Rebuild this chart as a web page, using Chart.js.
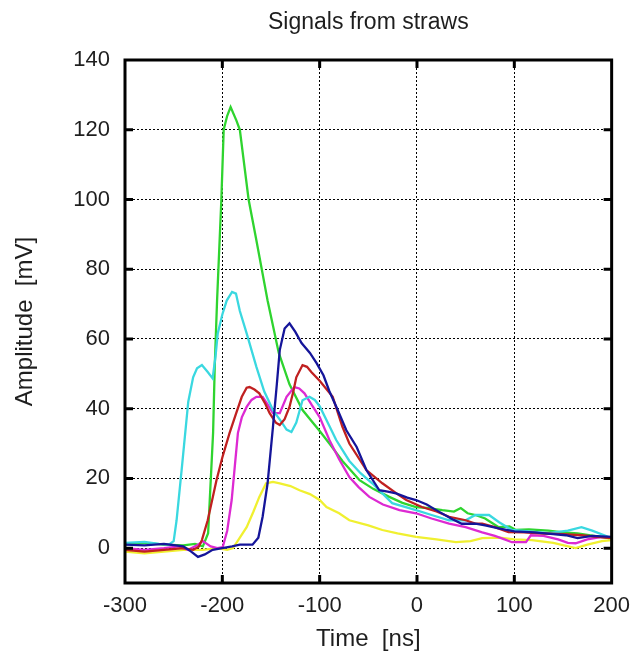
<!DOCTYPE html>
<html>
<head>
<meta charset="utf-8">
<script src="https://cdn.jsdelivr.net/npm/chart.js@4.4.1/dist/chart.umd.min.js"></script>
<style>
  html, body { margin: 0; padding: 0; background: #fff; }
  #wrap { width: 640px; height: 654px; }
</style>
</head>
<body>
<div id="wrap"><canvas id="strawChart"></canvas></div>
<script>
// time [ns] and amplitude [mV], one pair per straw
const greenTime = [-300, -280, -260, -240, -228, -220, -214.6, -209.5, -207.8, -205.4, -201, -198.6, -195, -191.5, -185.6, -182, -173, -165.5, -153.5, -142, -131, -117.6, -100, -90, -76.6, -59, -45, -28.5, -15, -1, 12, 26, 38, 45, 52, 60, 70, 84, 95, 101.6, 115, 135, 150, 165, 180, 197, 200];
const greenAmp = [1, 1.5, 1, 0.8, 1.2, 0.5, 4.3, 33, 52, 71, 100, 120, 124, 126.5, 122.7, 120, 100, 89, 71, 56, 47, 39.6, 33.6, 30, 25, 19.5, 17, 14.7, 13, 11.8, 11.5, 10.9, 10.5, 11.5, 10, 9.5, 8.5, 6, 6.2, 5.2, 5.4, 5, 4.5, 4.2, 3.6, 2.9, 3];

const cyanTime = [-300, -280, -265, -255, -250, -247, -241.6, -235, -230, -226, -221, -215, -210, -207, -204.7, -200, -195.5, -190, -186, -182, -175, -165, -157, -148, -140, -134, -129, -124, -117.6, -110.5, -105, -100, -90, -83, -69.5, -58, -46, -25.5, -1, 15, 33, 50, 60, 67, 74, 84, 97.5, 115, 135, 155, 169, 180, 197, 200];
const cyanAmp = [1.5, 1.8, 1.2, 1, 2, 8, 23, 42, 49, 51.6, 52.5, 50.5, 48.7, 55, 61.6, 67, 71, 73.5, 73, 68, 61.6, 52, 45, 39.6, 36.5, 34, 33.3, 36, 42.4, 43.4, 42.5, 40.7, 35, 31, 25, 21.5, 18.6, 12.9, 10.9, 9.5, 8, 8, 9.5, 9.5, 9.5, 7.5, 5.2, 4.8, 4.3, 5, 6, 5, 3.2, 3];

const blueTime = [-300, -280, -260, -240, -232, -225, -218, -210, -200, -190, -182, -169, -163, -158.6, -153.5, -148, -144, -141, -136, -131, -125, -118.6, -110, -103, -96, -90, -82, -72.6, -62, -52, -38.7, -30, -21.5, -10, -1, 10, 19.7, 35, 46, 60, 70, 84, 100, 120, 140, 153, 165, 180, 200];
const blueAmp = [1, 0.8, 1.2, 0.5, -1, -2.5, -1.8, -0.5, 0, 0.5, 1, 1, 3, 9, 18.6, 34.7, 47, 56.8, 63, 64.5, 62, 58.8, 56, 53, 49.5, 45, 40, 33.8, 29, 22.4, 16.6, 16.2, 15.7, 14.5, 13.8, 12.5, 10.9, 8.5, 7, 7, 6.5, 5.7, 4.8, 4.5, 4, 3.7, 2.9, 3.5, 3.2];

const redTime = [-300, -280, -260, -240, -230, -224, -221, -215, -206, -200, -192.6, -186, -180, -175, -172, -167, -162, -156, -151.4, -145, -141, -136, -131, -127, -124, -117.6, -113, -108.6, -100, -86.6, -76.6, -69.5, -52, -35.6, -20, -11, 5, 20, 33, 50, 60.6, 67, 80, 94, 110, 130, 150, 169, 185, 200];
const redAmp = [-0.5, -1, -0.5, 0, -0.5, 0.5, 2.3, 8, 19.5, 26, 33, 38.5, 43.4, 46, 46.2, 45.5, 44.4, 41.5, 38.7, 36, 35.3, 37, 40.5, 45, 49, 52.5, 52, 50.5, 48, 43.4, 34.8, 30, 22.4, 18.6, 15.5, 13.8, 11.8, 10.5, 9, 8, 7, 7, 6, 4.6, 4.5, 4.2, 4, 3.7, 3.2, 2.9];

const magentaTime = [-300, -280, -260, -245, -235, -225, -220, -212, -205, -199.6, -195, -190.4, -187, -184, -180, -175, -170, -165, -158.6, -153, -148, -141, -134, -126, -121, -115.6, -108, -100, -90, -80, -69.5, -60, -49, -35, -18, -1, 15, 33, 50, 67, 80, 90, 97.5, 112, 117, 130, 145, 155, 163, 175, 190, 200];
const magentaAmp = [0, -0.5, 0, 0.5, -0.5, 1, 2, 0.5, 0, 0.3, 5, 13.8, 24, 33, 37.5, 40.5, 42.5, 43.4, 43.4, 41, 38.7, 38.7, 43.4, 46.2, 45.8, 44.4, 41, 37.6, 31, 25.5, 20.4, 17.5, 14.7, 12.5, 10.9, 10, 8.5, 7, 6, 4.5, 3.5, 2.5, 1.7, 1.7, 3.7, 3.5, 2.5, 1.5, 1.4, 2.5, 3.2, 3];

const yellowTime = [-300, -280, -260, -240, -220, -205, -195, -189, -182, -175, -168, -162, -155, -148, -141, -130, -120.7, -110, -100, -93, -80, -69.5, -50, -35.6, -20, -1, 20, 40, 55, 67, 85, 100, 118, 140, 163, 175, 190, 200];
const yellowAmp = [-1, -1.5, -1, -0.5, -0.5, 0, -0.5, 0, 3, 6, 10.5, 14.7, 18.6, 19, 18.6, 17.8, 16.6, 15.5, 13.8, 11.8, 10, 8, 6.5, 5.2, 4.2, 3.2, 2.5, 1.7, 2, 2.9, 3, 2.5, 2.3, 1.5, 0, 1, 2, 2.3];

const xTicks = [-300, -200, -100, 0, 100, 200];
const yTicks = [0, 20, 40, 60, 80, 100, 120, 140];

const fontFamily = "'Liberation Sans', Arial, sans-serif";
const textColor = "#1e1e1e";

function toPoints(times, amps) {
  return times.map((t, i) => ({ x: t, y: amps[i] }));
}

function series(times, amps, color) {
  return {
    data: toPoints(times, amps),
    borderColor: color,
    borderWidth: 2.3,
    pointRadius: 0,
    tension: 0,
    fill: false,
  };
}

// thick frame plus short inward tick marks, like the original plot
const framePlugin = {
  id: "frame",
  afterDraw(chart) {
    const { ctx, chartArea: a, scales } = chart;
    ctx.save();
    ctx.strokeStyle = "#000";
    ctx.lineWidth = 3;
    ctx.strokeRect(a.left, a.top, a.right - a.left, a.bottom - a.top);
    const len = 8;
    xTicks.forEach((v) => {
      const px = scales.x.getPixelForValue(v);
      if (px <= a.left + 1 || px >= a.right - 1) return;
      ctx.beginPath();
      ctx.moveTo(px, a.bottom);
      ctx.lineTo(px, a.bottom - len);
      ctx.moveTo(px, a.top);
      ctx.lineTo(px, a.top + len);
      ctx.stroke();
    });
    yTicks.forEach((v) => {
      const py = scales.y.getPixelForValue(v);
      if (py <= a.top + 1 || py >= a.bottom - 1) return;
      ctx.beginPath();
      ctx.moveTo(a.left, py);
      ctx.lineTo(a.left + len, py);
      ctx.moveTo(a.right, py);
      ctx.lineTo(a.right - len, py);
      ctx.stroke();
    });
    ctx.restore();
  },
};

const canvas = document.getElementById("strawChart");
const ctx = canvas.getContext("2d");

new Chart(ctx, {
  type: "line",
  data: {
    datasets: [
      series(blueTime, blueAmp, "#15159a"),
      series(redTime, redAmp, "#c02020"),
      series(cyanTime, cyanAmp, "#3ad8e0"),
      series(magentaTime, magentaAmp, "#dd2ad2"),
      series(greenTime, greenAmp, "#2fd42f"),
      series(yellowTime, yellowAmp, "#f0f030"),
    ],
  },
  options: {
    responsive: true,
    maintainAspectRatio: false,
    animation: false,
    layout: { padding: { left: 0, right: 27, top: 0, bottom: 0 } },
    plugins: {
      legend: { display: false },
      tooltip: { enabled: false },
      title: {
        display: true,
        text: "Signals from straws",
        fullSize: false,
        color: textColor,
        font: { family: fontFamily, size: 23, weight: "normal" },
        padding: { top: 9, bottom: 23.4 },
      },
    },
    scales: {
      x: {
        type: "linear",
        min: -300,
        max: 200,
        afterFit: (s) => { s.height = 71; },
        afterBuildTicks: (s) => { s.ticks = xTicks.map((v) => ({ value: v })); },
        ticks: {
          stepSize: 100,
          padding: 10,
          color: textColor,
          font: { family: fontFamily, size: 22 },
          maxRotation: 0,
        },
        grid: { color: "#000", lineWidth: 1, drawTicks: false },
        border: { display: false, dash: [2, 2] },
        title: {
          display: true,
          text: "Time  [ns]",
          color: textColor,
          font: { family: fontFamily, size: 24 },
          padding: { top: 0, bottom: 0 },
        },
      },
      y: {
        type: "linear",
        min: -10,
        max: 140,
        afterFit: (s) => { s.width = 125; },
        afterBuildTicks: (s) => { s.ticks = yTicks.map((v) => ({ value: v })); },
        ticks: {
          stepSize: 20,
          padding: 15,
          color: textColor,
          font: { family: fontFamily, size: 22 },
        },
        grid: { color: "#000", lineWidth: 1, drawTicks: false },
        border: { display: false, dash: [2, 2] },
        title: {
          display: true,
          text: "Amplitude  [mV]",
          color: textColor,
          font: { family: fontFamily, size: 24 },
          padding: { top: 11, bottom: 0 },
        },
      },
    },
  },
  plugins: [framePlugin],
});
</script>
</body>
</html>
